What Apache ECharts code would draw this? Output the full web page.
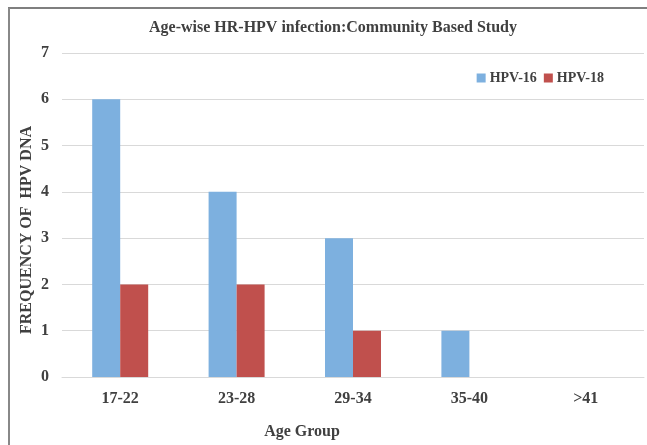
<!DOCTYPE html>
<html>
<head>
<meta charset="utf-8">
<script src="https://cdn.jsdelivr.net/npm/echarts@6/dist/echarts.min.js"></script>
<style>
html,body{margin:0;padding:0;background:#fff;}
#chart{width:647px;height:445px;}
</style>
</head>
<body>
<div id="chart"></div>
<script>
const categories = ['17-22', '23-28', '29-34', '35-40', '>41'];
const hpv16 = [6, 4, 3, 1, 0];
const hpv18 = [2, 2, 1, 0, 0];
const yTicks = [0, 1, 2, 3, 4, 5, 6, 7];

const FONT = '"Liberation Serif", "Times New Roman", serif';
const TXT = '#404040';

const chart = echarts.init(document.getElementById('chart'));
chart.setOption({
  backgroundColor: '#fff',
  animation: false,
  title: {
    text: 'Age-wise HR-HPV infection:Community Based Study',
    left: 328, top: 15, textAlign: 'center',
    textStyle: { fontFamily: FONT, fontSize: 16, fontWeight: 'bold', color: TXT }
  },
  legend: {
    right: 38, top: 66,
    itemWidth: 9, itemHeight: 9, itemGap: 7,
    icon: 'rect',
    textStyle: { fontFamily: FONT, fontSize: 14, fontWeight: 'bold', color: TXT, padding: [0, 0, 0, -1] },
    data: ['HPV-16', 'HPV-18']
  },
  graphic: [
    { type: 'line', shape: { x1: 8, y1: 8, x2: 647, y2: 8 }, style: { stroke: '#555', lineWidth: 1.5 } },
    { type: 'line', shape: { x1: 9, y1: 8, x2: 9, y2: 445 }, style: { stroke: '#888', lineWidth: 2 } }
  ],
  grid: { left: 62, right: 3, top: 53, bottom: 67 },
  xAxis: {
    type: 'category',
    data: categories,
    name: 'Age Group',
    nameLocation: 'middle',
    nameGap: 47,
    nameMoveOverlap: false,
    nameTextStyle: { fontFamily: FONT, fontSize: 16, fontWeight: 'bold', color: TXT, padding: [0, 0, 0, -102] },
    axisLine: { lineStyle: { color: '#d9d9d9' } },
    axisTick: { show: false },
    axisLabel: { fontFamily: FONT, fontSize: 16, fontWeight: 'bold', color: TXT, margin: 14 }
  },
  yAxis: {
    type: 'value',
    min: yTicks[0], max: yTicks[yTicks.length - 1], interval: 1,
    name: 'FREQUENCY OF  HPV DNA',
    nameLocation: 'middle',
    nameGap: 27,
    nameMoveOverlap: false,
    nameRotate: 90,
    nameTextStyle: { fontFamily: FONT, fontSize: 16, fontWeight: 'bold', color: TXT, padding: [0, 0, 0, -30] },
    axisLine: { show: false },
    axisTick: { show: false },
    splitLine: { lineStyle: { color: '#d9d9d9', width: 1 } },
    axisLabel: { fontFamily: FONT, fontSize: 16, fontWeight: 'bold', color: TXT, margin: 13 }
  },
  series: [
    { name: 'HPV-16', type: 'bar', data: hpv16, barWidth: 28, barGap: '0%', itemStyle: { color: '#7DB0DF' } },
    { name: 'HPV-18', type: 'bar', data: hpv18, barWidth: 28, barGap: '0%', itemStyle: { color: '#C0504D' } }
  ]
});
</script>
</body>
</html>
